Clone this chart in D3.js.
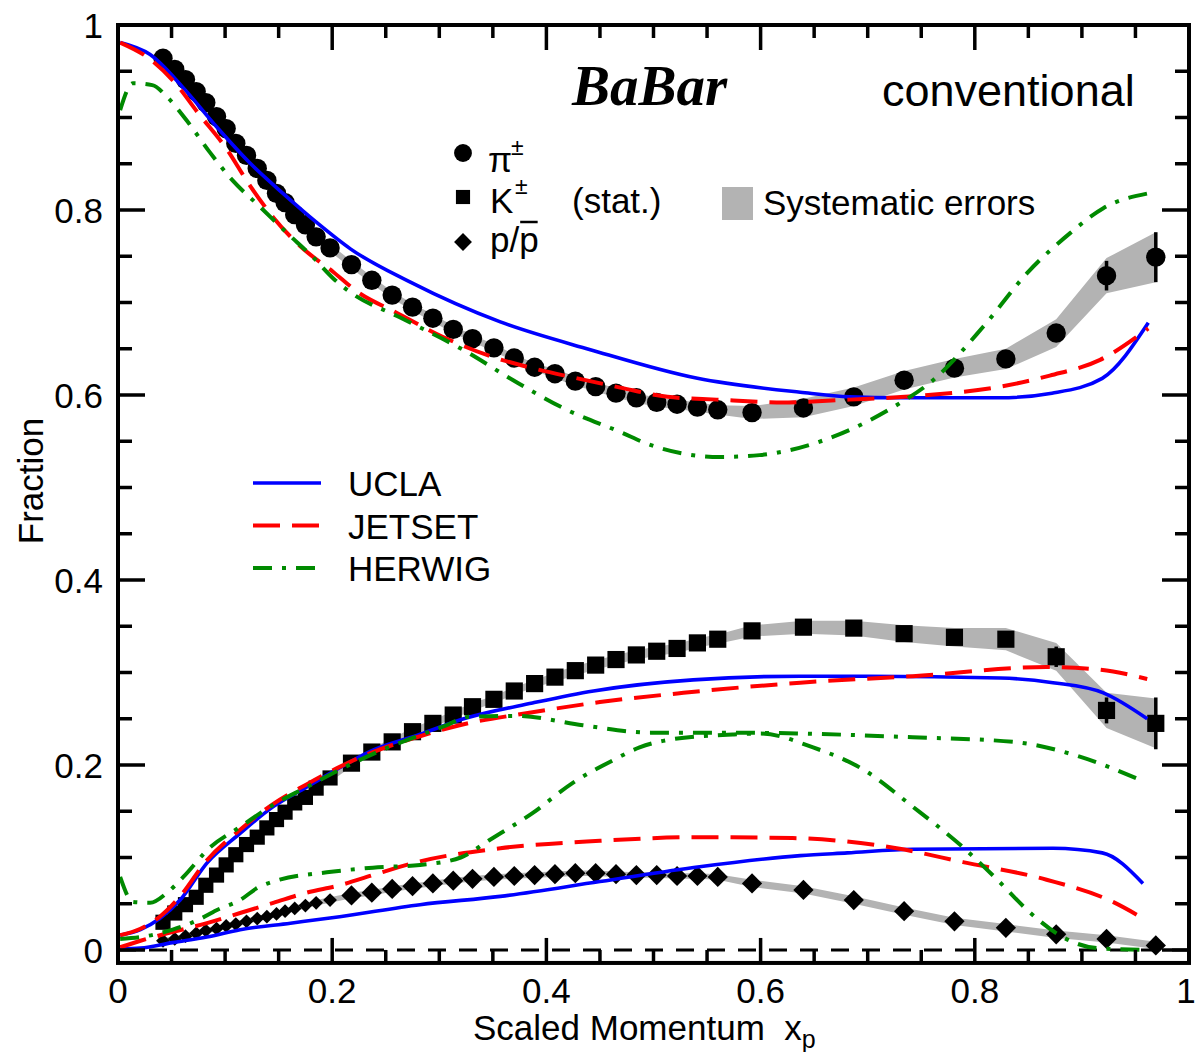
<!DOCTYPE html>
<html>
<head>
<meta charset="utf-8">
<script src="https://cdn.jsdelivr.net/npm/d3@7"></script>
<style>
  body { margin: 0; background: #fff; }
  svg { display: block; }
  text { font-family: "Liberation Sans", Arial, Helvetica, sans-serif; fill: #000; }
  text.serif { font-family: "Liberation Serif", "Times New Roman", Times, serif; }
</style>
</head>
<body>
<svg id="chart" width="1197" height="1052"></svg>
<script>
// ---- measured identified-hadron fractions vs scaled momentum x_p ----
const xBins = [0.042,0.053,0.063,0.073,0.082,0.092,0.101,0.110,0.120,0.130,0.139,0.148,0.156,0.165,0.175,0.185,0.198,
  0.218,0.237,0.256,0.275,0.294,0.313,0.331,0.351,0.370,0.389,0.408,0.427,0.446,0.465,0.484,0.503,0.522,0.541,0.560,
  0.592,0.640,0.687,0.734,0.781,0.829,0.876,0.923,0.969];

const pionFrac = [0.964,0.952,0.941,0.928,0.916,0.901,0.888,0.872,0.859,0.845,0.832,0.818,0.808,0.795,0.784,0.771,0.759,
  0.741,0.724,0.708,0.695,0.683,0.671,0.661,0.651,0.640,0.630,0.623,0.615,0.609,0.602,0.597,0.592,0.590,0.587,0.584,
  0.581,0.586,0.598,0.616,0.629,0.639,0.667,0.729,0.749];
const kaonFrac = [0.030,0.040,0.049,0.057,0.070,0.081,0.092,0.103,0.114,0.122,0.132,0.141,0.149,0.159,0.165,0.175,0.186,
  0.202,0.214,0.225,0.236,0.245,0.254,0.263,0.271,0.280,0.288,0.295,0.302,0.308,0.314,0.319,0.323,0.326,0.332,0.336,
  0.345,0.349,0.348,0.342,0.338,0.336,0.317,0.259,0.245];
const protonFrac = [0.010,0.012,0.015,0.018,0.021,0.023,0.026,0.028,0.031,0.034,0.036,0.039,0.042,0.045,0.048,0.051,0.054,
  0.059,0.062,0.066,0.069,0.072,0.075,0.077,0.079,0.080,0.081,0.082,0.083,0.083,0.082,0.081,0.081,0.080,0.080,0.079,
  0.072,0.065,0.054,0.042,0.031,0.024,0.017,0.012,0.005];

// systematic half-widths (grey bands)
const pionSys = [0.004,0.004,0.004,0.004,0.004,0.004,0.004,0.004,0.004,0.004,0.004,0.004,0.004,0.004,0.004,0.004,0.004,
  0.004,0.004,0.004,0.004,0.004,0.004,0.004,0.004,0.004,0.004,0.005,0.005,0.005,0.005,0.005,0.005,0.005,0.005,0.005,
  0.007,0.010,0.010,0.010,0.010,0.011,0.015,0.019,0.027];
const kaonSys = [0.004,0.004,0.004,0.004,0.004,0.004,0.004,0.004,0.004,0.004,0.004,0.004,0.004,0.004,0.004,0.004,0.004,
  0.004,0.004,0.004,0.004,0.004,0.004,0.004,0.004,0.004,0.004,0.005,0.005,0.005,0.005,0.005,0.005,0.005,0.005,0.005,
  0.006,0.007,0.008,0.009,0.010,0.012,0.015,0.019,0.027];
const protonSys = [0.003,0.003,0.003,0.003,0.003,0.003,0.003,0.003,0.003,0.003,0.003,0.003,0.003,0.003,0.003,0.003,0.003,
  0.003,0.003,0.003,0.003,0.003,0.003,0.003,0.003,0.003,0.003,0.003,0.003,0.003,0.003,0.003,0.003,0.003,0.003,0.003,
  0.004,0.004,0.004,0.004,0.004,0.004,0.004,0.004,0.004];

// statistical errors (only the last bins are larger than the markers)
const pionStat = [0,0,0,0,0,0,0,0,0,0,0,0,0,0,0,0,0, 0,0,0,0,0,0,0,0,0,0,0,0,0,0,0,0,0,0,0,
  0.002,0.002,0.003,0.003,0.004,0.005,0.008,0.016,0.027];
const kaonStat = [0,0,0,0,0,0,0,0,0,0,0,0,0,0,0,0,0, 0,0,0,0,0,0,0,0,0,0,0,0,0,0,0,0,0,0,0,
  0.002,0.002,0.003,0.003,0.004,0.005,0.011,0.014,0.028];
const protonStat = [0,0,0,0,0,0,0,0,0,0,0,0,0,0,0,0,0, 0,0,0,0,0,0,0,0,0,0,0,0,0,0,0,0,0,0,0,
  0.001,0.001,0.001,0.001,0.001,0.001,0.002,0.002,0.003];

// ---- Monte Carlo predictions [x_p, fraction] ----
const uclaPion = [[0.002,0.981],[0.030,0.968],[0.061,0.932],[0.092,0.890],[0.123,0.851],[0.154,0.818],[0.186,0.786],
  [0.217,0.758],[0.273,0.722],[0.357,0.679],[0.441,0.649],[0.541,0.618],[0.637,0.603],[0.683,0.598],[0.730,0.597],
  [0.823,0.597],[0.872,0.602],[0.919,0.618],[0.962,0.678]];
const jetsetPion = [[0.002,0.981],[0.030,0.963],[0.055,0.935],[0.074,0.906],[0.102,0.865],[0.120,0.832],[0.145,0.792],
  [0.170,0.761],[0.201,0.733],[0.223,0.712],[0.260,0.689],[0.303,0.663],[0.345,0.643],[0.387,0.629],[0.429,0.618],
  [0.469,0.608],[0.513,0.598],[0.559,0.595],[0.621,0.592],[0.683,0.595],[0.746,0.599],[0.824,0.609],[0.870,0.621],
  [0.917,0.638],[0.962,0.672]];
const herwigPion = [[0.002,0.908],[0.014,0.937],[0.032,0.935],[0.046,0.922],[0.064,0.897],[0.086,0.862],[0.107,0.832],
  [0.133,0.803],[0.158,0.775],[0.182,0.749],[0.201,0.726],[0.217,0.711],[0.263,0.684],[0.322,0.649],[0.369,0.616],
  [0.419,0.584],[0.469,0.560],[0.497,0.546],[0.562,0.533],[0.599,0.535],[0.668,0.555],[0.724,0.587],[0.761,0.616],
  [0.808,0.674],[0.849,0.732],[0.889,0.775],[0.920,0.802],[0.962,0.818]];

const uclaKaon = [[0.002,0.016],[0.021,0.022],[0.039,0.034],[0.058,0.054],[0.083,0.094],[0.114,0.126],[0.145,0.155],
  [0.176,0.176],[0.207,0.197],[0.238,0.216],[0.279,0.232],[0.326,0.251],[0.387,0.267],[0.444,0.280],[0.537,0.292],
  [0.637,0.296],[0.700,0.296],[0.824,0.294],[0.873,0.289],[0.920,0.278],[0.961,0.250]];
const jetsetKaon = [[0.002,0.016],[0.021,0.023],[0.039,0.036],[0.058,0.058],[0.083,0.097],[0.114,0.130],[0.145,0.158],
  [0.176,0.179],[0.207,0.198],[0.238,0.214],[0.279,0.230],[0.319,0.243],[0.387,0.257],[0.450,0.268],[0.528,0.278],
  [0.637,0.289],[0.742,0.296],[0.867,0.306],[0.917,0.303],[0.961,0.293]];
const herwigKaon = [[0.002,0.079],[0.014,0.052],[0.030,0.051],[0.046,0.062],[0.061,0.079],[0.086,0.111],[0.114,0.133],
  [0.145,0.157],[0.176,0.176],[0.207,0.195],[0.242,0.214],[0.279,0.231],[0.307,0.243],[0.326,0.252],[0.373,0.253],
  [0.434,0.243],[0.497,0.235],[0.574,0.235],[0.637,0.234],[0.742,0.230],[0.836,0.225],[0.898,0.209],[0.954,0.184]];

const uclaProton = [[0.002,0.001],[0.021,0.002],[0.051,0.008],[0.083,0.014],[0.114,0.022],[0.161,0.029],[0.207,0.036],
  [0.282,0.049],[0.357,0.058],[0.450,0.074],[0.543,0.090],[0.637,0.102],[0.681,0.105],[0.742,0.109],[0.873,0.110],
  [0.919,0.105],[0.957,0.072]];
const jetsetProton = [[0.002,0.003],[0.021,0.010],[0.046,0.018],[0.083,0.029],[0.114,0.040],[0.145,0.051],[0.176,0.062],
  [0.207,0.070],[0.238,0.081],[0.279,0.095],[0.357,0.110],[0.450,0.118],[0.543,0.122],[0.630,0.121],[0.727,0.110],
  [0.789,0.095],[0.867,0.076],[0.929,0.052],[0.956,0.035]];
const herwigProton = [[0.002,0.012],[0.021,0.014],[0.051,0.022],[0.074,0.032],[0.092,0.043],[0.114,0.054],[0.130,0.067],
  [0.151,0.076],[0.195,0.084],[0.238,0.089],[0.282,0.092],[0.320,0.100],[0.347,0.119],[0.387,0.148],[0.425,0.181],
  [0.462,0.205],[0.487,0.219],[0.513,0.227],[0.574,0.233],[0.600,0.234],[0.649,0.219],[0.696,0.195],[0.742,0.155],
  [0.789,0.111],[0.821,0.076],[0.852,0.040],[0.882,0.014],[0.914,0.002],[0.961,0.000]];

// ---- axis ticks ----
const xTickValues = [0, 0.2, 0.4, 0.6, 0.8, 1];
const xTickLabels = ["0", "0.2", "0.4", "0.6", "0.8", "1"];
const yTickValues = [0, 0.2, 0.4, 0.6, 0.8, 1];
const yTickLabels = ["0", "0.2", "0.4", "0.6", "0.8", "1"];

const modelNames = ["UCLA", "JETSET", "HERWIG"];
const speciesNames = ["\u03c0", "K", "p/p"];

// ---- layout ----
const svg = d3.select("#chart");
const x = d3.scaleLinear().domain([0, 1]).range([118, 1189]);
const y = d3.scaleLinear().domain([0, 1]).range([950, 25]);
const yBottom = -0.014;

const modelStyle = {
  UCLA:   { color: "#0000ff", width: 3.6, dash: null },
  JETSET: { color: "#ff0000", width: 4, dash: "27,12" },
  HERWIG: { color: "#008a00", width: 4, dash: "19,10,4,10" }
};

svg.append("defs").append("clipPath").attr("id", "plotClip")
  .append("rect").attr("x", x(0)).attr("y", y(1)).attr("width", x(1) - x(0)).attr("height", y(yBottom) - y(1));

const plot = svg.append("g").attr("clip-path", "url(#plotClip)");

// zero reference line
plot.append("line")
  .attr("x1", x(0)).attr("x2", x(1)).attr("y1", y(0)).attr("y2", y(0))
  .attr("stroke", "#000").attr("stroke-width", 3).attr("stroke-dasharray", "18,13");

// systematic bands
const species = [
  { vals: pionFrac, sys: pionSys, stat: pionStat, shape: "circle" },
  { vals: kaonFrac, sys: kaonSys, stat: kaonStat, shape: "square" },
  { vals: protonFrac, sys: protonSys, stat: protonStat, shape: "diamond" }
];

const band = d3.area()
  .x(d => x(d.x))
  .y0(d => y(d.v - d.s))
  .y1(d => y(d.v + d.s));

species.forEach(sp => {
  const pts = xBins.map((xv, i) => ({ x: xv, v: sp.vals[i], s: sp.sys[i] }));
  plot.append("path").datum(pts).attr("d", band).attr("fill", "#b3b3b3").attr("stroke", "none");
});

// statistical error bars and markers
function markerPath(shape, i) {
  const fine = i < 17;
  if (shape === "circle") return d3.symbol().type(d3.symbolCircle).size(295)();
  if (shape === "square") return d3.symbol().type(d3.symbolSquare).size(fine ? 230 : 295)();
  return d3.symbol().type(d3.symbolSquare).size(fine ? 95 : 205)();
}

species.forEach(sp => {
  const pts = xBins.map((xv, i) => ({ x: xv, v: sp.vals[i], e: sp.stat[i], i }));
  plot.append("g").selectAll("line").data(pts.filter(d => d.e > 0)).join("line")
    .attr("x1", d => x(d.x)).attr("x2", d => x(d.x))
    .attr("y1", d => y(d.v - d.e)).attr("y2", d => y(d.v + d.e))
    .attr("stroke", "#000").attr("stroke-width", 3.5);
  plot.append("g").selectAll("path").data(pts).join("path")
    .attr("d", d => markerPath(sp.shape, d.i))
    .attr("transform", d => `translate(${x(d.x)},${y(d.v)})` + (sp.shape === "diamond" ? " rotate(45)" : ""))
    .attr("fill", "#000");
});

// model curves
const curve = d3.line().x(d => x(d[0])).y(d => y(d[1])).curve(d3.curveMonotoneX);
const curves = [
  ["UCLA", uclaPion], ["JETSET", jetsetPion], ["HERWIG", herwigPion],
  ["UCLA", uclaKaon], ["JETSET", jetsetKaon], ["HERWIG", herwigKaon],
  ["UCLA", uclaProton], ["JETSET", jetsetProton], ["HERWIG", herwigProton]
];
curves.forEach(([m, data]) => {
  const st = modelStyle[m];
  plot.append("path").datum(data).attr("d", curve)
    .attr("fill", "none").attr("stroke", st.color).attr("stroke-width", st.width)
    .attr("stroke-dasharray", st.dash);
});

// ---- frame and ticks ----
const axes = svg.append("g").attr("stroke", "#000");
const L = x(0), R = x(1), T = y(1), B = y(yBottom);
const minorSteps = d3.range(0, 1.0001, 0.05).map(v => +v.toFixed(2));
const isMajor = v => xTickValues.some(t => Math.abs(t - v) < 1e-6);

minorSteps.forEach(v => {
  const major = isMajor(v);
  const lx = major ? 25 : 13;
  const ly = major ? 27 : 14;
  axes.append("line").attr("x1", x(v)).attr("x2", x(v)).attr("y1", B).attr("y2", B - lx).attr("stroke-width", 3.5);
  axes.append("line").attr("x1", x(v)).attr("x2", x(v)).attr("y1", T).attr("y2", T + lx).attr("stroke-width", 3.5);
  axes.append("line").attr("y1", y(v)).attr("y2", y(v)).attr("x1", L).attr("x2", L + ly).attr("stroke-width", 3.5);
  axes.append("line").attr("y1", y(v)).attr("y2", y(v)).attr("x1", R).attr("x2", R - ly).attr("stroke-width", 3.5);
});

axes.append("rect").attr("x", L).attr("y", T).attr("width", R - L).attr("height", B - T)
  .attr("fill", "none").attr("stroke-width", 4);

// tick labels (the last one is kept inside the page edge)
svg.append("g").selectAll("text").data(xTickValues).join("text")
  .attr("x", d => Math.min(x(d), 1186)).attr("y", 1003).attr("text-anchor", "middle")
  .attr("font-size", 35).text((d, i) => xTickLabels[i]);
svg.append("g").selectAll("text").data(yTickValues).join("text")
  .attr("x", 103).attr("y", d => y(d) + 13).attr("text-anchor", "end")
  .attr("font-size", 35).text((d, i) => yTickLabels[i]);

// axis titles
svg.append("text").attr("transform", "translate(43,481) rotate(-90)")
  .attr("text-anchor", "middle").attr("font-size", 35).text("Fraction");
const xt = svg.append("text").attr("x", 473).attr("y", 1040).attr("font-size", 35).style("white-space", "pre");
xt.append("tspan").text("Scaled Momentum  x");
xt.append("tspan").attr("font-size", 25).attr("dy", 8).text("p");

// experiment and selection labels
svg.append("text").attr("class", "serif").attr("x", 572).attr("y", 105)
  .attr("font-weight", "bold").attr("font-style", "italic").attr("font-size", 57).text("BaBar");
svg.append("text").attr("x", 882).attr("y", 106).attr("font-size", 45).text("conventional");

// ---- data legend ----
const leg = svg.append("g");
const legX = 463;
leg.append("path").attr("d", d3.symbol().type(d3.symbolCircle).size(250)()).attr("transform", `translate(${legX},153)`);
leg.append("path").attr("d", d3.symbol().type(d3.symbolSquare).size(200)()).attr("transform", `translate(${legX},197)`);
leg.append("path").attr("d", d3.symbol().type(d3.symbolSquare).size(160)()).attr("transform", `translate(${legX},242) rotate(45)`);

leg.append("text").attr("x", 488).attr("y", 172).attr("font-size", 35).text(speciesNames[0]);
leg.append("text").attr("x", 511).attr("y", 155).attr("font-size", 23).text("\u00b1");
leg.append("text").attr("x", 490).attr("y", 213).attr("font-size", 35).text(speciesNames[1]);
leg.append("text").attr("x", 515).attr("y", 194).attr("font-size", 23).text("\u00b1");
leg.append("text").attr("x", 572).attr("y", 213).attr("font-size", 35).text("(stat.)");
const pp = leg.append("text").attr("x", 490).attr("y", 252).attr("font-size", 35).text(speciesNames[2]);
{
  const node = pp.node();
  const start = node.getStartPositionOfChar(2);
  const w = node.getSubStringLength(2, 1);
  leg.append("line").attr("x1", start.x + 1).attr("x2", start.x + w - 1)
    .attr("y1", 222).attr("y2", 222).attr("stroke", "#000").attr("stroke-width", 2.5);
}
leg.append("rect").attr("x", 722).attr("y", 187).attr("width", 31).attr("height", 33).attr("fill", "#b3b3b3");
leg.append("text").attr("x", 763).attr("y", 215).attr("font-size", 35).text("Systematic errors");

// ---- model legend ----
const mleg = svg.append("g");
modelNames.forEach((m, i) => {
  const yy = 483 + i * 42.5;
  const st = modelStyle[m];
  mleg.append("line").attr("x1", 253).attr("x2", 321).attr("y1", yy).attr("y2", yy)
    .attr("stroke", st.color).attr("stroke-width", st.width).attr("stroke-dasharray", st.dash);
  mleg.append("text").attr("x", 348).attr("y", yy + 13).attr("font-size", 35).text(m);
});
</script>
</body>
</html>
